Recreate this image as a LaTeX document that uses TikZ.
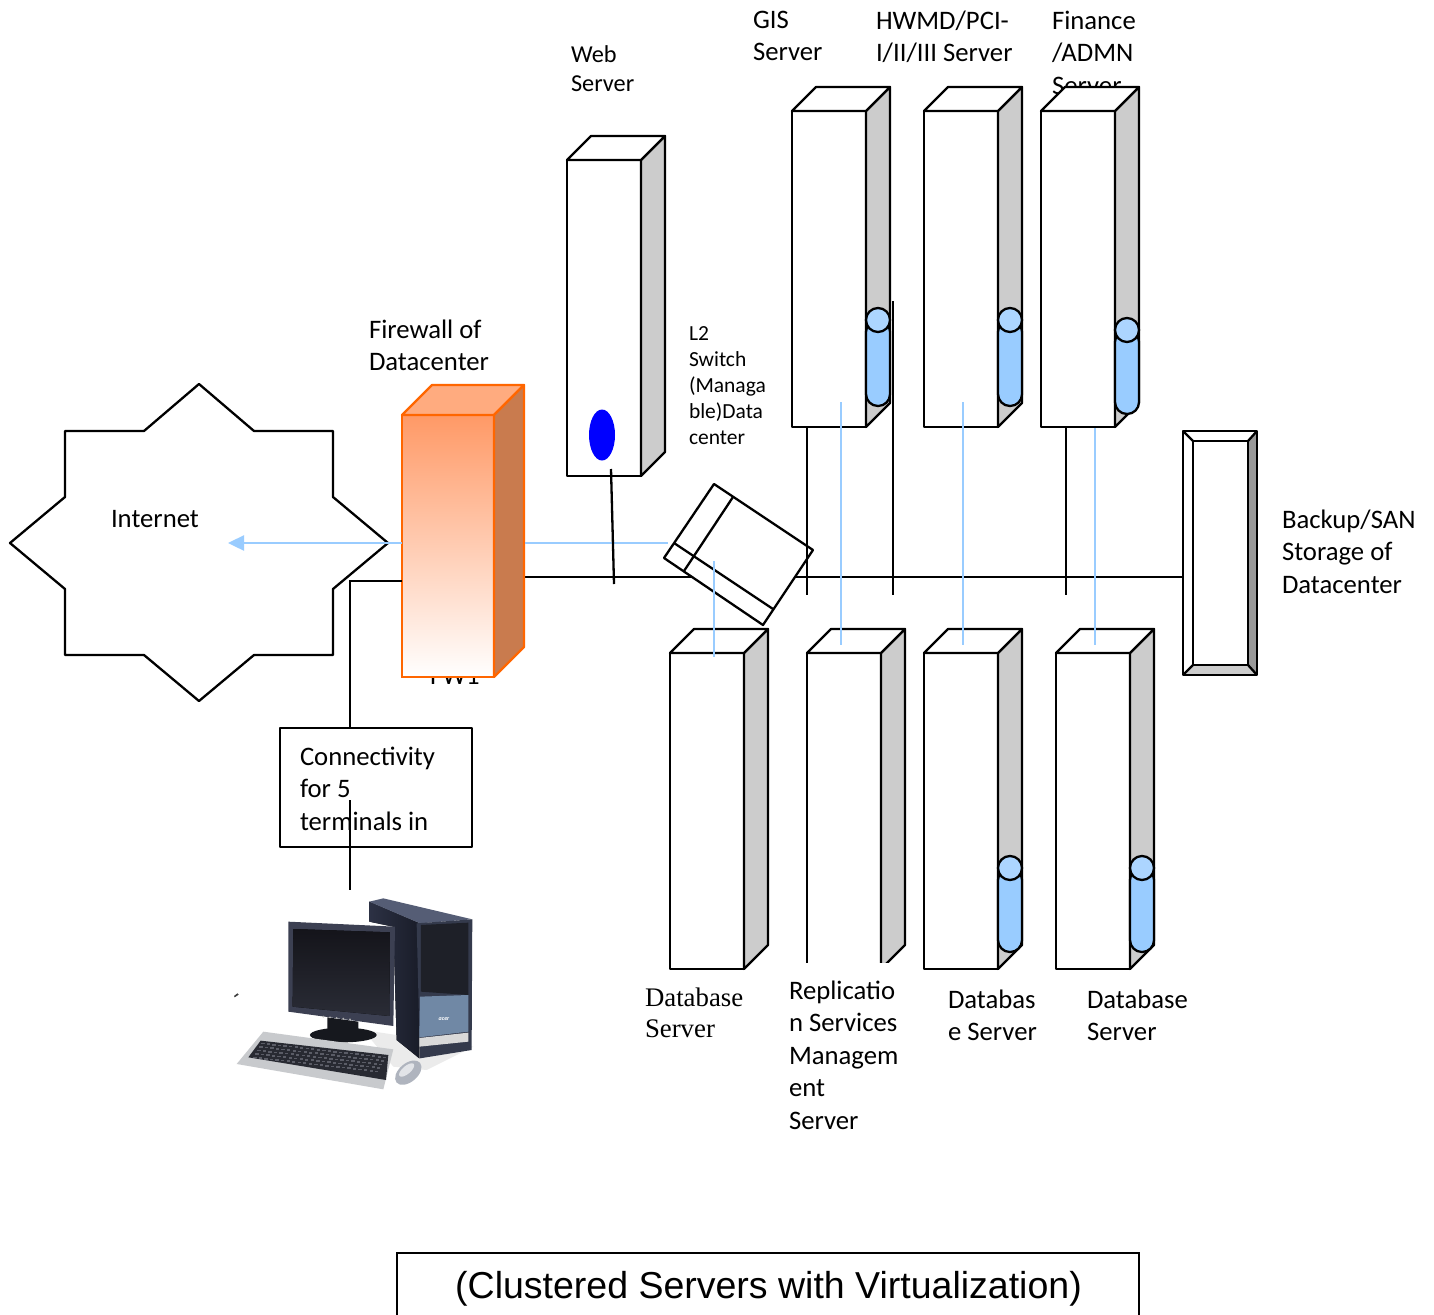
\documentclass[tikz,border=0pt]{standalone}
\usepackage{fontspec}
\setmainfont{Carlito}
\newfontfamily\tmsf{Liberation Serif}
\newfontfamily\arlf{Liberation Sans}
\usetikzlibrary{arrows.meta}
\definecolor{sideg}{HTML}{CCCCCC}
\definecolor{cylb}{HTML}{99CCFF}
\definecolor{cylt}{HTML}{ACD5FF}
\definecolor{linkb}{HTML}{99CCFF}
\definecolor{fwo}{HTML}{FF6600}
\definecolor{fwside}{HTML}{C97B4E}
\definecolor{fwtop}{HTML}{FFAB7F}
\definecolor{fwgrad}{HTML}{FF9966}
\definecolor{pcA}{HTML}{2C3144}
\definecolor{pcB}{HTML}{191C28}
\definecolor{pcC}{HTML}{555D75}
\definecolor{pcD}{HTML}{343A4C}
\definecolor{pcE}{HTML}{1E2028}
\definecolor{pcF}{HTML}{7088A5}
\definecolor{pcG}{HTML}{3C4052}
\definecolor{pcH}{HTML}{14141A}
\definecolor{pcHb}{HTML}{2A2C36}
\definecolor{pcI}{HTML}{16181E}
\definecolor{pcJ}{HTML}{C8CACD}
\definecolor{pcK}{HTML}{282A32}
\definecolor{pcL}{HTML}{AFB4BE}
\definecolor{pcM}{HTML}{E2E4E8}
\definecolor{pcKey}{HTML}{5A5C66}
\tikzset{
 x=1pt,y=-1pt,
 wire/.style={draw=black,line width=2.3pt},
 bluewire/.style={draw=linkb,line width=2.4pt},
 shell/.style={draw=black,line width=2.3pt,line join=round},
 frontface/.style={shell,fill=white,rectangle,inner sep=0pt,outer sep=0pt,anchor=north west,minimum width=74pt,minimum height=316pt},
 lab/.style={inner sep=0pt,outer sep=0pt,anchor=north west,align=left,font=\fontsize{26.7}{32.4}\selectfont},
 labs/.style={lab,font=\fontsize{24.3}{29}\selectfont},
 labxs/.style={lab,font=\fontsize{21.5}{26}\selectfont},
 labt/.style={lab,font=\tmsf\fontsize{26.8}{31}\selectfont},
}
\newcommand{\srv}[3]{%
 \node[frontface] (#1) at (#2,#3) {};
 \draw[shell,fill=sideg] (#1.north east) -- ++(24,-24) -- ++(0,316) -- ++(-24,24) -- cycle;
 \draw[shell,fill=white] (#1.north west) -- ++(24,-24) -- ++(74,0) -- ++(-24,24) -- cycle;
}
\newcommand{\cyl}[3]{%
 \draw[shell,fill=cylb,rounded corners=11.9pt] (#1,#2) rectangle (#1+24,#3);
 \draw[shell,fill=cylt] (#1+12,#2) circle[radius=12];
}
\begin{document}
\begin{tikzpicture}
\useasboundingbox (0,0) rectangle (1434,1314);
\fill[white] (0,0) rectangle (1434,1314);

% labels that sit behind shapes
\node[lab] (fwlab) at (430,667) {FW1};
\node[lab] (finlab) at (1052,11) {Finance\\/ADMN\\Server};

% Internet
\draw[shell,fill=white] (199,384) -- (254,431) -- (333,431) -- (333,497) -- (388,543) -- (333,589) -- (333,655) -- (254,655) -- (199,701) -- (144,655) -- (65,655) -- (65,589) -- (10,543) -- (65,497) -- (65,431) -- (144,431) -- cycle;
\node[lab] (inet) at (111,510) {Internet};

% coordinates
\coordinate (fwB) at (402,543);
\coordinate (arrowEnd) at (228,543);
\coordinate (fwR) at (525,543);
\coordinate (swB) at (668,543);
\coordinate (busL) at (525,577);
\coordinate (fwT) at (402,581);
\coordinate (elbow) at (350,581);

% main bus
\draw[wire] (busL) -- (1183,577) coordinate (busR);

% servers
\srv{web}{567}{160}
\srv{gis}{792}{111}
\srv{hwmd}{924}{111}
\srv{fin}{1041}{111}
\srv{db1}{670}{653}
\srv{rep}{807}{653}
\srv{db3}{924}{653}
\srv{db4}{1056}{653}
\fill[white] (800,963) rectangle (910,975);

\fill[blue] (602,435) ellipse[x radius=13,y radius=25.5];
\cyl{866}{320}{406}
\cyl{998}{320}{406}
\cyl{1115}{330}{414}
\cyl{998}{868}{952}
\cyl{1130}{868}{952}

% firewall
\node[draw=fwo,line width=2.3pt,top color=fwgrad,bottom color=white,rectangle,inner sep=0pt,outer sep=0pt,anchor=north west,minimum width=92pt,minimum height=262pt] (fw) at (402,415) {};
\draw[draw=fwo,line width=2.3pt,line join=round,fill=fwtop] (fw.north west) -- ++(30,-30) -- ++(92,0) -- ++(-30,30) -- cycle;
\draw[draw=fwo,line width=2.3pt,line join=round,fill=fwside] (fw.north east) -- ++(30,-30) -- ++(0,262) -- ++(-30,30) -- cycle;

% connectors
\draw[bluewire,-{Triangle[length=16pt,width=15pt]}] (fwB) -- (arrowEnd);
\draw[bluewire] (fwR) -- (swB);
\draw[wire] (fwT) -- (elbow) -- (350,728) coordinate (boxT);
\coordinate (webD) at (611,469); \coordinate (webE) at (614,584);
\draw[wire] (webD) -- (webE);

% switch
\draw[shell,fill=white] (714,484) coordinate (sw1) -- (813,550) coordinate (sw2) -- (763,625) coordinate (sw3) -- (664,558) coordinate (sw4) -- cycle;
\draw[wire] (733,497) -- (684,571);
\draw[wire] (674,543) -- (773,609);

% drops
\coordinate (a1) at (807,427); \coordinate (a2) at (807,595);
\coordinate (b1) at (893,301); \coordinate (b2) at (893,595);
\coordinate (c1) at (1066,427); \coordinate (c2) at (1066,595);
\draw[wire] (a1) -- (a2);
\draw[wire] (b1) -- (b2);
\draw[wire] (c1) -- (c2);
\coordinate (d1) at (714,561); \coordinate (d2) at (714,657);
\coordinate (e1) at (841,402); \coordinate (e2) at (841,645);
\coordinate (f1) at (963,402); \coordinate (f2) at (963,645);
\coordinate (g1) at (1095,428); \coordinate (g2) at (1095,645);
\draw[bluewire] (d1) -- (d2);
\draw[bluewire] (e1) -- (e2);
\draw[bluewire] (f1) -- (f2);
\draw[bluewire] (g1) -- (g2);

% backup store
\fill[white] (1183,431) rectangle (1257,675);
\fill[black!40] (1257,431) -- (1248,441) -- (1248,665) -- (1257,675) -- cycle;
\fill[sideg] (1183,675) -- (1193,665) -- (1248,665) -- (1257,675) -- cycle;
\draw[shell] (1183,431) rectangle (1257,675);
\draw[shell] (1193,441) rectangle (1248,665);
\draw[shell] (1183,431) -- (1193,441) (1257,431) -- (1248,441) (1183,675) -- (1193,665) (1257,675) -- (1248,665);
\node[lab] (bklab) at (1282,510) {Backup/SAN\\Storage of\\Datacenter};

% terminal box
\node[shell,fill=white,rectangle,inner sep=0pt,outer sep=0pt,anchor=north west,minimum width=192pt,minimum height=119pt] (termbox) at (280,728) {};
\node[lab] (termlab) at (300,747) {Connectivity\\for 5\\terminals in};
\coordinate (t1) at (350,800); \coordinate (t2) at (350,890);
\draw[wire] (t1) -- (t2);

% text labels
\node[lab] (fwname) at (369,320) {Firewall of\\Datacenter};
\node[labs] (weblab) at (571,46) {Web\\Server};
\node[lab] (gislab) at (753,11) {GIS\\Server};
\node[lab] (hwlab) at (876,11) {HWMD/PCI-\\I/II/III Server};
\node[labxs] (swlab) at (689,327) {L2\\Switch\\(Managa\\ble)Data\\center};
\node[labt] (d1lab) at (645,988) {Database\\Server};
\node[lab] (d2lab) at (789,981) {Replicatio\\n Services\\Managem\\ent\\Server};
\node[lab] (d3lab) at (948,990) {Databas\\e Server};
\node[lab] (d4lab) at (1087,990) {Database\\Server};

% title
\draw[wire] (397,1320) -- (397,1253) -- (1139,1253) -- (1139,1320);
\node[inner sep=0pt,font=\arlf\fontsize{37.5}{44}\selectfont] (title) at (768.5,1289) {(Clustered Servers with Virtualization)};

% computer picture
\begin{scope}[shift={(220,880)},x=0.3333pt,y=-0.3333pt]
 \fill[black!75] (44,352) -- (56,344) -- (52,340) -- (42,348) -- cycle;
 % tower
 \fill[black!8] (430,450) -- (760,500) -- (620,570) -- (520,560) -- cycle;
 \fill[left color=pcA,right color=pcB] (448,65) -- (600,130) -- (598,535) -- (530,480) -- (520,140) -- (448,125) -- cycle;
 \fill[pcC] (448,65) -- (490,55) -- (757,118) -- (600,130) -- cycle;
 \fill[pcD] (590,130) -- (757,118) -- (755,510) -- (600,535) -- cycle;
 \fill[pcE] (603,135) -- (745,128) -- (745,345) -- (603,335) -- cycle;
 \fill[pcF] (600,350) -- (745,345) -- (745,455) -- (598,472) -- cycle;
 \fill[white!85!black] (598,474) -- (745,458) -- (745,485) -- (598,500) -- cycle;
 \node[inner sep=0pt,font=\fontsize{6}{6}\selectfont\itshape\bfseries,white] (acer) at (672,418) {acer};
 % monitor
 \fill[pcI] (322,412) -- (415,425) -- (415,470) -- (322,450) -- cycle;
 \fill[pcI] (370,465) ellipse[x radius=100,y radius=22];
 \fill[pcG] (205,125) -- (525,140) -- (520,438) -- (205,395) -- cycle;
 \fill[top color=pcH,bottom color=pcHb] (220,147) -- (510,157) -- (508,408) -- (218,380) -- cycle;
 \foreach \b in {0,1,2,3,4} \fill[white!70!black] ({310+\b*20},{410+\b*2}) circle[radius=3];
 % keyboard
 \fill[pcJ] (130,455) -- (520,508) -- (490,628) -- (50,552) -- cycle;
 \fill[pcK] (122,482) -- (505,525) -- (498,600) -- (85,532) -- cycle;
 \foreach \r in {0,1,2,3,4} \foreach \c in {0,1,...,22}
   \fill[pcKey] ({124+\c*16.6-\r*6},{488+\c*1.9+\r*10.5}) rectangle ++(10,5);
 % mouse
 \fill[pcL,rotate around={40:(565,578)}] (565,578) ellipse[x radius=46,y radius=28];
 \fill[pcM,rotate around={40:(560,570)}] (560,570) ellipse[x radius=28,y radius=12];
\end{scope}
\end{tikzpicture}
\end{document}
